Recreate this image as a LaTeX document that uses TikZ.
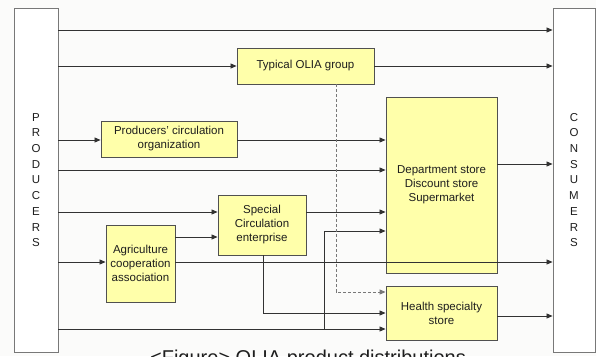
\documentclass[tikz,border=0pt]{standalone}
\usepackage{fontspec}
\setmainfont{Liberation Sans}
\usetikzlibrary{arrows.meta}
\definecolor{boxfill}{RGB}{255,255,170}
\definecolor{bg}{RGB}{251,251,250}
\definecolor{linec}{RGB}{50,50,50}
\definecolor{edgec}{RGB}{80,80,80}
\definecolor{sidec}{RGB}{120,120,120}
\definecolor{txt}{RGB}{30,30,30}
\tikzset{
  ybox/.style={draw=edgec, line width=0.9pt, fill=boxfill, inner sep=0pt, align=center,
    font=\fontsize{11.5}{14}\selectfont, text=txt},
  sidebox/.style={draw=sidec, line width=0.9pt, fill=white, inner sep=0pt, align=center,
    font=\fontsize{11.5}{15.7}\selectfont, text=txt},
  arr/.style={draw=linec, line width=0.8pt, -{Triangle[length=6pt,width=5pt]}},
  ln/.style={draw=linec, line width=0.8pt},
  dsh/.style={draw=sidec, line width=0.9pt, dashed, dash pattern=on 3pt off 2pt, -{Triangle[length=6pt,width=5pt]}}
}
\begin{document}
\begin{tikzpicture}[x=1pt,y=-1pt]
\useasboundingbox (0,0) rectangle (596,356);
\fill[bg] (0,0) rectangle (596,356);
% side boxes
\node[sidebox, minimum width=44pt, minimum height=344pt] (prod) at (36,180) {P\\R\\O\\D\\U\\C\\E\\R\\S};
\node[sidebox, minimum width=42pt, minimum height=344pt] (cons) at (574,180) {C\\O\\N\\S\\U\\M\\E\\R\\S};
% yellow boxes
\node[ybox, minimum width=137pt, minimum height=36pt] (typ) at (305.5,66) {Typical OLIA group};
\node[ybox, minimum width=136pt, minimum height=36pt] (pco) at (169,139) {Producers' circulation\\organization};
\node[ybox, minimum width=111pt, minimum height=176pt] (dept) at (441.5,185) {Department store\\Discount store\\Supermarket};
\node[ybox, minimum width=88pt, minimum height=60pt] (spec) at (262,225) {Special\\Circulation\\enterprise};
\node[ybox, minimum width=69pt, minimum height=77pt] (agri) at (140.5,263.5) {Agriculture\\cooperation\\association};
\node[ybox, minimum width=111pt, minimum height=54pt] (health) at (441.5,313) {Health specialty\\store};
% connectors
\draw[arr] (prod.east |- 0,30) -- (cons.west |- 0,30);
\draw[arr] (prod.east |- 0,66) -- (typ.west |- 0,66);
\draw[arr] (typ.east |- 0,66) -- (cons.west |- 0,66);
\draw[arr] (prod.east |- 0,140) -- (pco.west |- 0,140);
\draw[arr] (pco.east |- 0,140) -- (dept.west |- 0,140);
\draw[arr] (prod.east |- 0,170) -- (dept.west |- 0,170);
\draw[arr] (dept.east |- 0,164) -- (cons.west |- 0,164);
\draw[arr] (prod.east |- 0,212) -- (spec.west |- 0,212);
\draw[arr] (spec.east |- 0,212) -- (dept.west |- 0,212);
\draw[arr] (agri.east |- 0,237) -- (spec.west |- 0,237);
\draw[arr] (prod.east |- 0,262) -- (agri.west |- 0,262);
\draw[arr] (agri.east |- 0,262) -- (cons.west |- 0,262);
\draw[arr] (spec.south -| 263,0) -- (263,313) -- (health.west |- 0,313);
\draw[arr] (prod.east |- 0,329) -- (health.west |- 0,329);
\coordinate (br) at (324,329);
\draw[arr] (br) -- (324,231) -- (dept.west |- 0,231);
\draw[arr] (health.east |- 0,316) -- (cons.west |- 0,316);
\draw[dsh] (typ.south -| 336,0) -- (336,292) -- (health.west |- 0,292);
% caption
\node[anchor=base, font=\fontsize{20}{24}\selectfont, text=txt, inner sep=0pt] (cap) at (308,364.5) {<Figure> OLIA product distributions};
\end{tikzpicture}
\end{document}
